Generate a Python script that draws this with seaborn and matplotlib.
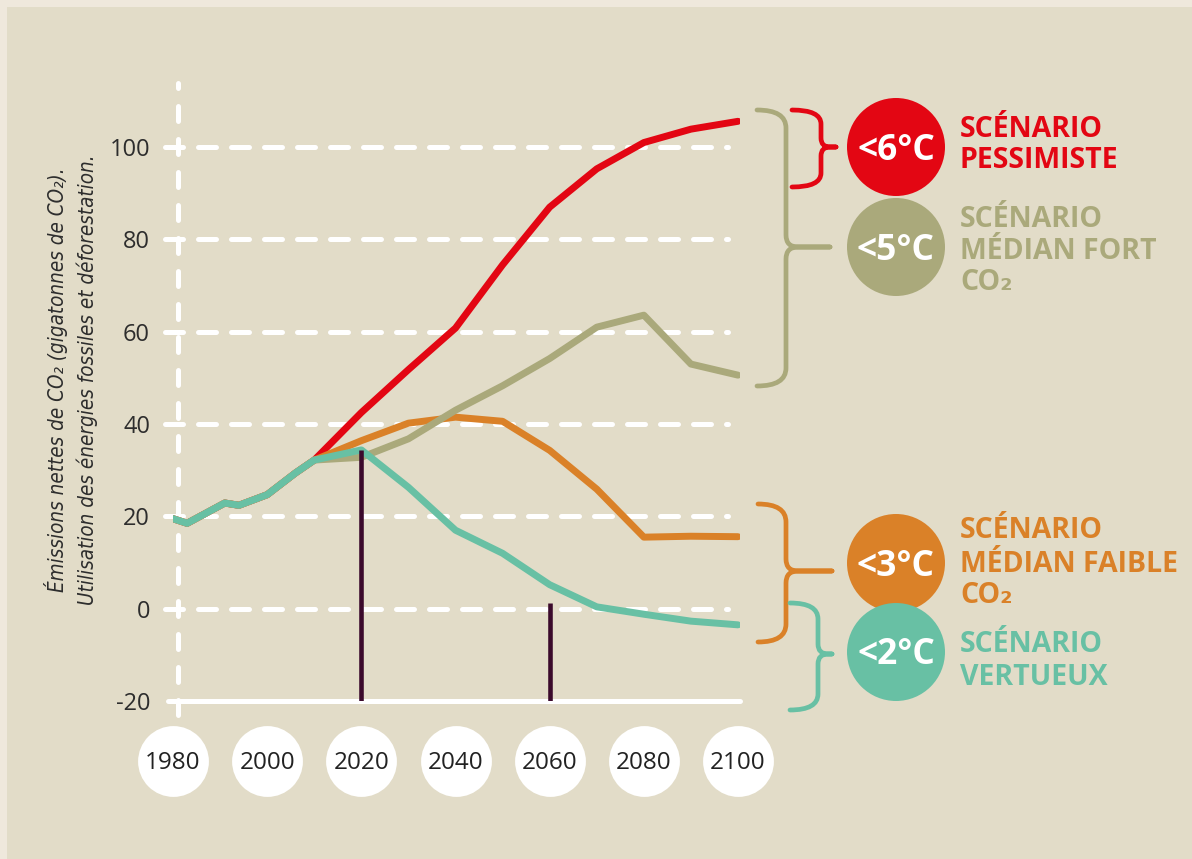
import matplotlib
matplotlib.use("Agg")
import matplotlib.pyplot as plt
from matplotlib import font_manager
from matplotlib.font_manager import FontProperties
from matplotlib.patches import Circle, Rectangle, PathPatch
from matplotlib.path import Path
import pandas as pd
import seaborn as sns

# ---- data -------------------------------------------------------------
years = [1980, 1983, 1991, 1994, 2000, 2006, 2010,
         2020, 2030, 2040, 2050, 2060, 2070, 2080, 2090, 2100]
history = [19.5, 18.5, 22.9, 22.4, 24.7, 29.4, 32.2]
pessimiste = history + [42.5, 51.8, 60.8, 74.5, 87.0, 95.3, 101.0, 103.9, 105.6]
median_fort = history + [32.8, 36.8, 43.0, 48.3, 54.2, 61.0, 63.6, 53.0, 50.6]
median_faible = history + [36.4, 40.2, 41.5, 40.6, 34.3, 25.9, 15.5, 15.7, 15.6]
vertueux = history + [34.4, 26.3, 17.0, 12.0, 5.2, 0.4, -1.2, -2.7, -3.5]

scenarios = ["pessimiste", "médian fort", "médian faible", "vertueux"]
colors = ["#e30613", "#aaa97b", "#da8128", "#68c0a4"]
temperatures = ["<6°C", "<5°C", "<3°C", "<2°C"]
legend_lines = [["SCÉNARIO", "PESSIMISTE"],
                ["SCÉNARIO", "MÉDIAN FORT", "CO₂"],
                ["SCÉNARIO", "MÉDIAN FAIBLE", "CO₂"],
                ["SCÉNARIO", "VERTUEUX"]]

y_ticks = [-20, 0, 20, 40, 60, 80, 100]
x_ticks = [1980, 2000, 2020, 2040, 2060, 2080, 2100]
marker_years = [2020, 2060]
marker_tops = [34.4, 1.3]

# ---- style ------------------------------------------------------------
sns.set_theme(style="white")
fonts = font_manager.fontManager.ttflist
available = {f.name for f in fonts}
main_font = "Open Sans" if "Open Sans" in available else "DejaVu Sans"
plt.rcParams["font.family"] = [main_font, "DejaVu Sans"]


def is_narrow(f):
    if "Narrow" in f.name or "Condensed" in f.name or "Condensed" in f.fname:
        return True
    st = f.stretch
    if isinstance(st, str):
        return "condensed" in st
    return st < 500


def pick_axis_title_font():
    narrow = [f for f in fonts if is_narrow(f) and "Mono" not in f.name
              and "Serif" not in f.name]
    italic = [f for f in narrow if f.style in ("italic", "oblique")
              and f.weight in (400, "normal", "regular", "book")]
    pool = italic or [f for f in narrow if f.weight in (400, "normal", "regular", "book")]
    if pool:
        return FontProperties(fname=pool[0].fname)
    return FontProperties(family=[main_font, "DejaVu Sans"], style="italic")


title_fp = pick_axis_title_font()

PANEL = "#e2dcc8"
FRAME = "#efe8dc"
INK = "#2d2d2d"
MARK = "#3b0a2c"

W, H = 1192, 859
fig = plt.figure(figsize=(W / 100, H / 100), dpi=100)
fig.patch.set_facecolor(FRAME)

# pixel-space layer for the panel, braces, badges and scenario names
deco = fig.add_axes([0, 0, 1, 1], zorder=0)
deco.set_xlim(0, W)
deco.set_ylim(H, 0)
deco.axis("off")
deco.add_patch(Rectangle((7, 7), W, H, color=PANEL, lw=0, zorder=0))

# ---- chart axes -------------------------------------------------------
L, R, T, B = 173, 740, 83, 701
ax = fig.add_axes([L / W, 1 - B / H, (R - L) / W, (B - T) / H], zorder=1)
ax.patch.set_alpha(0)
for s in ax.spines.values():
    s.set_visible(False)
ax.set_xlim(1981.05, 2100.42)
ax.set_ylim(-20, 113.9)
ax.set_axisbelow(False)

# dashed white grid and axes lines
for v in y_ticks[1:]:
    ax.axhline(v, xmin=-0.014, xmax=0.979, color="white", lw=3.6,
               ls=(0, (3.6, 3.0)), dash_capstyle="round", clip_on=False, zorder=1)
ax.axvline(1981.05, ymin=-0.0227, ymax=1, color="white", lw=3.6,
           ls=(0, (3.0, 3.6)), dash_capstyle="round", clip_on=False, zorder=1)
ax.axhline(-20, xmin=-0.009, xmax=1, color="white", lw=3.6, clip_on=False, zorder=1)

df = pd.DataFrame({
    "année": years * 4,
    "émissions": pessimiste + median_faible + median_fort + vertueux,
    "scénario": (["pessimiste"] * len(years) + ["médian faible"] * len(years)
                 + ["médian fort"] * len(years) + ["vertueux"] * len(years)),
})
draw_order = ["pessimiste", "médian faible", "médian fort", "vertueux"]
sns.lineplot(data=df, x="année", y="émissions", hue="scénario",
             hue_order=draw_order, palette=dict(zip(scenarios, colors)),
             linewidth=5, legend=False, estimator=None, ax=ax,
             solid_capstyle="round", solid_joinstyle="round", zorder=3)

ax.vlines(marker_years, -20, marker_tops, colors=MARK, lw=3.3, zorder=4)

# year badges under the axis
ax.scatter(x_ticks, [-32.9] * len(x_ticks), s=2600, color="white",
           linewidths=0, clip_on=False, zorder=2)

ax.set_xticks(x_ticks)
ax.set_xticklabels([str(y) for y in x_ticks])
ax.set_yticks(y_ticks)
ax.set_yticklabels([str(v) for v in y_ticks])
ax.tick_params(axis="x", length=0, pad=36, labelsize=17.5, labelcolor="#222222")
ax.tick_params(axis="y", length=0, pad=16.5, labelsize=17, labelcolor=INK)
ax.set_xlabel("")

# rotated two-line axis title, sized to run along the value axis
title_fp.set_size(16)
ylab = ax.set_ylabel("Émissions nettes de CO₂ (gigatonnes de CO₂).\n"
                     "Utilisation des énergies fossiles et déforestation.",
                     fontproperties=title_fp, color=INK, linespacing=1.5)
ax.yaxis.set_label_coords(-0.132, 0.52)
fig.canvas.draw()
span = ylab.get_window_extent().height
size = min(20.0, 16 * 452.0 / span)
ylab.set_fontsize(size)

# ---- scenario key -----------------------------------------------------
def brace(x0, x1, x2, yt, ym, yb, r, rt, color):
    C3 = Path.CURVE3
    verts = [(x0, yt), (x1, yt), (x1, yt + r), (x1, ym - rt), (x1, ym),
             (x1 + rt, ym), (x2, ym),
             (x0, yb), (x1, yb), (x1, yb - r), (x1, ym + rt), (x1, ym),
             (x1 + rt, ym), (x2, ym)]
    codes = [Path.MOVETO, C3, C3, Path.LINETO, C3, C3, Path.LINETO] * 2
    deco.add_patch(PathPatch(Path(verts, codes), fill=False, edgecolor=color,
                             lw=3.4, capstyle="round", joinstyle="round",
                             zorder=2))

brace(792, 821, 836, 110, 147, 187, 14, 9, colors[0])
brace(757, 786, 830, 110, 247, 386, 18, 12, colors[1])
brace(758, 786, 832, 504, 571, 642, 18, 12, colors[2])
brace(790, 818, 832, 603, 654, 710, 16, 10, colors[3])

badge_y = [147, 247, 563, 652]
baselines = [[137, 168], [227, 259, 290], [538, 572, 603], [652, 685]]
for i in [1, 0, 2, 3]:
    deco.add_patch(Circle((896, badge_y[i]), 49, color=colors[i], lw=0, zorder=3))
    deco.text(896, badge_y[i] + 12.5, temperatures[i], color="white",
              fontsize=25.5, fontweight="bold", ha="center", va="baseline",
              zorder=4)
    for line, yb in zip(legend_lines[i], baselines[i]):
        deco.text(960, yb, line, color=colors[i], fontsize=20.5,
                  fontweight="bold", ha="left", va="baseline", zorder=4)

fig.savefig("out.png", dpi=100, facecolor=fig.get_facecolor())
